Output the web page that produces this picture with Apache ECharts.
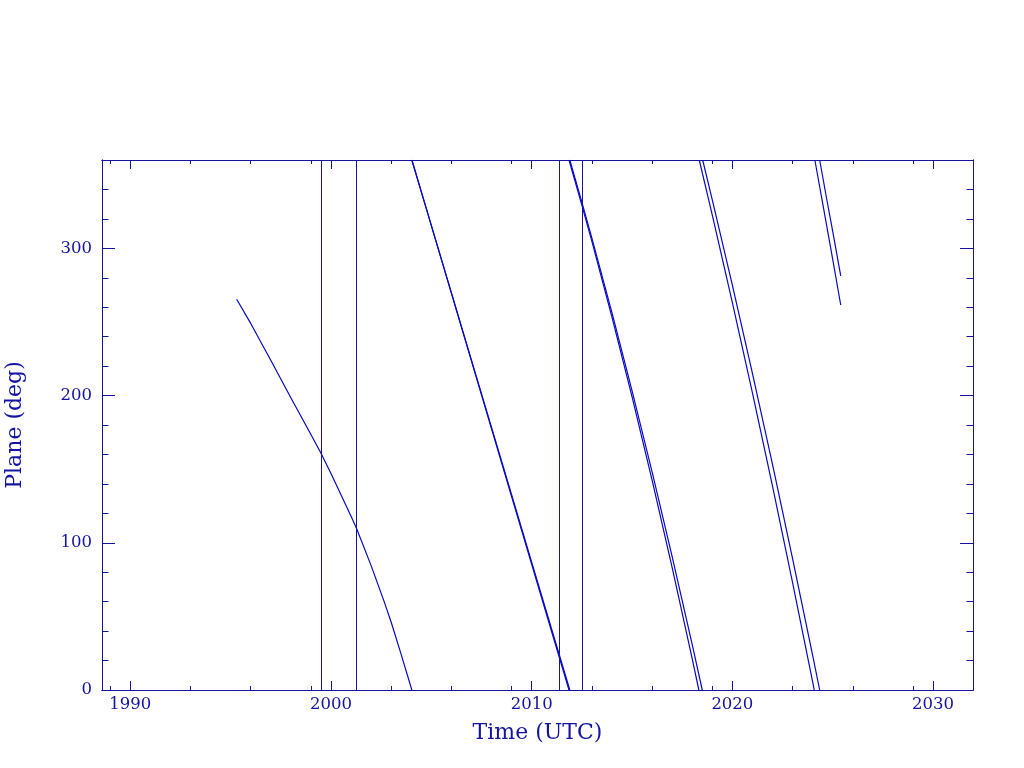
<!DOCTYPE html>
<html>
<head>
<meta charset="utf-8">
<script src="https://cdn.jsdelivr.net/npm/echarts@6/dist/echarts.min.js"></script>
<style>
html,body{margin:0;padding:0;background:#fff;}
#chart{width:1024px;height:768px;}
</style>
</head>
<body>
<div id="chart"></div>
<script>
// ---- data (time in decimal years UTC, plane angle in degrees) ----
const segA      = [[1995.30,265.4],[1996.00,249],[1997.00,224],[1998.00,198.5],[1999.00,173.5],[1999.49,161.1],[2000.00,147],[2001.00,118],[2001.28,109.5],[2002.00,84.5],[2002.65,60],[2003.00,46],[2003.50,24],[2004.03,0]];
const segBFast  = [[2004.03,360],[2005,315.4],[2006,269.4],[2007,223.4],[2008,177.4],[2009,131.4],[2010,85.4],[2011,39.4],[2011.86,0]];
const segBSlow  = [[2004.03,360],[2005,315.6],[2006,269.9],[2007,224.1],[2008,178.4],[2009,132.6],[2010,86.9],[2011,41.1],[2011.90,0]];
const segCFast  = [[2011.86,360],[2012.5,329.4],[2013,304.7],[2014,253.3],[2015,199.3],[2016,142.5],[2017,83.1],[2018,21.1],[2018.33,0]];
const segCSlow  = [[2011.90,360],[2012.5,331.4],[2013,306.9],[2014,256.3],[2015,203.3],[2016,148.1],[2017,90.6],[2018,30.8],[2018.50,0]];
const segDFast  = [[2018.35,360],[2019,322.5],[2020,263.2],[2021,201.8],[2022,138.4],[2023,73.0],[2024,5.5],[2024.08,0]];
const segDSlow  = [[2018.52,360],[2019,332.9],[2020,275.0],[2021,215.1],[2022,153.2],[2023,89.3],[2024,23.5],[2024.35,0]];
const segEFast  = [[2024.11,360],[2024.5,330.5],[2025,292.5],[2025.40,261.5]];
const segESlow  = [[2024.35,360],[2024.7,333.5],[2025,311.5],[2025.40,281.3]];
const eventTimes = [1999.49, 2001.27, 2011.39, 2012.53];

const xMajorTicks = [1990, 2000, 2010, 2020, 2030];
const xMinorTicks = [1989, 1993, 1996, 1999, 2003, 2006, 2009, 2013, 2016, 2019, 2023, 2026, 2029];
const yMajorTicks = [0, 100, 200, 300];
const yMinorTicks = [20, 40, 60, 80, 120, 140, 160, 180, 220, 240, 260, 280, 320, 340];
const xRange = [1988.59, 2031.99];
const yRange = [0, 360];

// ---- styling ----
const frameColor = '#1414a0';
const curveColor = '#0808c4';
const fontFamily = 'DejaVu Serif';

function plain(v) { return String(v); }

function xAx(pos, ticks, len, labels, extra) {
  return Object.assign({
    type: 'value', min: xRange[0], max: xRange[1], position: pos,
    axisLine: { show: true, onZero: false, lineStyle: { color: frameColor, width: 1 } },
    axisTick: { show: true, inside: true, length: len, customValues: ticks, lineStyle: { color: frameColor, width: 1 } },
    axisLabel: labels ? { show: true, customValues: ticks, formatter: plain, color: frameColor, fontFamily: fontFamily, fontSize: 16.5, margin: 6 } : { show: false },
    splitLine: { show: false }, minorTick: { show: false }
  }, extra || {});
}
function yAx(pos, ticks, len, labels, extra) {
  return Object.assign({
    type: 'value', min: yRange[0], max: yRange[1], position: pos,
    axisLine: { show: true, onZero: false, lineStyle: { color: frameColor, width: 1 } },
    axisTick: { show: true, inside: true, length: len, customValues: ticks, lineStyle: { color: frameColor, width: 1 } },
    axisLabel: labels ? { show: true, customValues: ticks, formatter: plain, color: frameColor, fontFamily: fontFamily, fontSize: 16.5, margin: 10 } : { show: false },
    splitLine: { show: false }, minorTick: { show: false }
  }, extra || {});
}

const segments = [segA, segBFast, segBSlow, segCFast, segCSlow, segDFast, segDSlow, segEFast, segESlow];

const series = segments.map(function (seg) {
  return {
    type: 'line', xAxisIndex: 0, yAxisIndex: 0, data: seg,
    showSymbol: false, symbol: 'none', smooth: false,
    lineStyle: { color: curveColor, width: 1.2 }, silent: true, z: 3
  };
});
series.push({
  type: 'line', xAxisIndex: 0, yAxisIndex: 0, data: [], silent: true,
  markLine: {
    silent: true, symbol: ['none', 'none'], label: { show: false },
    lineStyle: { type: 'solid', color: frameColor, width: 1 },
    data: eventTimes.map(function (t) { return { xAxis: t }; })
  }
});

const chart = echarts.init(document.getElementById('chart'), null, { renderer: 'canvas' });
chart.setOption({
  animation: false,
  backgroundColor: '#ffffff',
  grid: { left: 102, right: 51, top: 160, bottom: 78, containLabel: false, outerBoundsMode: 'none' },
  xAxis: [
    xAx('bottom', xMajorTicks, 9, true, {
      name: 'Time (UTC)', nameLocation: 'middle', nameGap: 32,
      nameTextStyle: { color: frameColor, fontFamily: fontFamily, fontSize: 22 }
    }),
    xAx('top', xMajorTicks, 9, false),
    xAx('bottom', xMinorTicks, 4, false),
    xAx('top', xMinorTicks, 4, false)
  ],
  yAxis: [
    yAx('left', yMajorTicks, 13, true, {
      name: 'Plane (deg)', nameLocation: 'middle', nameGap: 76,
      nameTextStyle: { color: frameColor, fontFamily: fontFamily, fontSize: 22 }
    }),
    yAx('right', yMajorTicks, 13, false),
    yAx('left', yMinorTicks, 6.5, false),
    yAx('right', yMinorTicks, 6.5, false)
  ],
  series: series
});
</script>
</body>
</html>
